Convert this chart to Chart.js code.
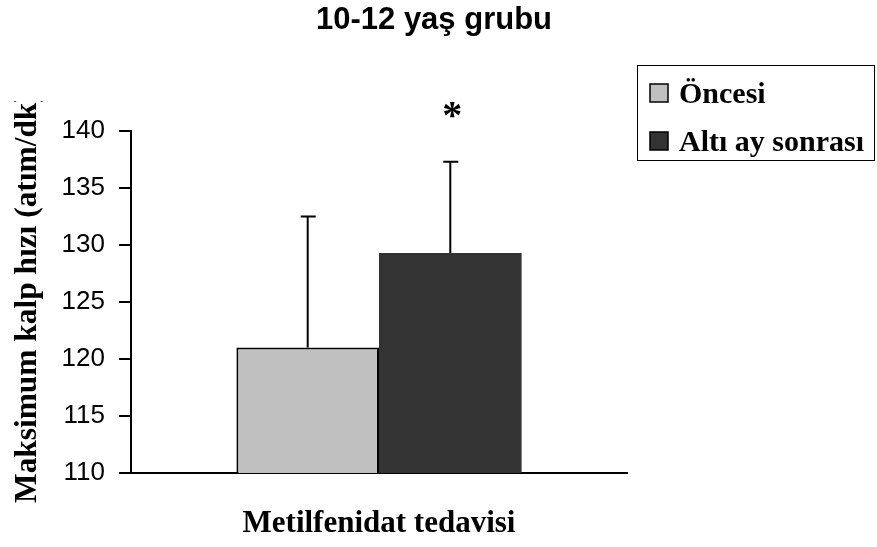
<!DOCTYPE html>
<html>
<head>
<meta charset="utf-8">
<script src="https://cdn.jsdelivr.net/npm/chart.js@4/dist/chart.umd.min.js"></script>
<style>
  body { margin: 0; background: #fff; }
</style>
</head>
<body>
<canvas id="chart" width="877" height="547"></canvas>
<script>
const categories = ['Metilfenidat tedavisi'];
const seriesNames = ['Öncesi', 'Altı ay sonrası'];
const onceValues = [121.0];
const sonraValues = [129.3];
const onceErrors = [11.5];
const sonraErrors = [8.0];
const yTicks = [110, 115, 120, 125, 130, 135, 140];
const yTitle = 'Maksimum kalp hızı (atım/dk)';
const chartTitle = '10-12 yaş grubu';
const significance = ['', '*'];

const errors = [onceErrors, sonraErrors];

// title, error bars, star, rotated y title and boxed legend
const extras = {
  id: 'extras',
  afterDatasetsDraw(chart) {
    const ctx = chart.ctx;
    const y = chart.scales.y;
    ctx.save();
    ctx.strokeStyle = '#000';
    ctx.lineWidth = 2;
    chart.data.datasets.forEach((ds, i) => {
      const meta = chart.getDatasetMeta(i);
      meta.data.forEach((bar, j) => {
        const top = y.getPixelForValue(ds.data[j] + errors[i][j]);
        ctx.beginPath();
        ctx.moveTo(bar.x, bar.y);
        ctx.lineTo(bar.x, top);
        ctx.moveTo(bar.x - 7, top);
        ctx.lineTo(bar.x + 8, top);
        ctx.stroke();
        if (significance[i]) {
          ctx.fillStyle = '#000';
          ctx.font = 'bold 40px "Liberation Serif"';
          ctx.textAlign = 'center';
          ctx.textBaseline = 'alphabetic';
          ctx.fillText(significance[i], bar.x + 2, top - 34);
        }
      });
    });
    ctx.restore();
  },
  afterDraw(chart) {
    const ctx = chart.ctx;
    // chart title
    ctx.save();
    ctx.fillStyle = '#000';
    ctx.font = 'bold 31px "Liberation Sans"';
    ctx.textAlign = 'center';
    ctx.textBaseline = 'alphabetic';
    ctx.fillText(chartTitle, 434, 29);
    ctx.restore();

    // y axis title, clipped at the top like the original
    ctx.save();
    ctx.beginPath();
    ctx.rect(0, 101, 131, 446);
    ctx.clip();
    ctx.translate(36, 503);
    ctx.rotate(-Math.PI / 2);
    ctx.fillStyle = '#000';
    ctx.font = 'bold 31.4px "Liberation Serif"';
    ctx.textAlign = 'left';
    ctx.textBaseline = 'alphabetic';
    ctx.fillText(yTitle, 0, 0);
    ctx.restore();

    // legend
    ctx.save();
    ctx.strokeStyle = '#000';
    ctx.lineWidth = 1;
    ctx.strokeRect(637.5, 65.5, 237, 95);
    ctx.font = 'bold 30px "Liberation Serif"';
    ctx.textBaseline = 'alphabetic';
    ctx.textAlign = 'left';
    chart.data.datasets.forEach((ds, i) => {
      const base = 103 + i * 48;
      ctx.fillStyle = ds.backgroundColor;
      ctx.fillRect(650, base - 19, 18, 18);
      ctx.lineWidth = 1.5;
      ctx.strokeRect(650, base - 19, 18, 18);
      ctx.fillStyle = '#000';
      ctx.fillText(ds.label, 679, base);
    });
    ctx.restore();
  }
};

new Chart(document.getElementById('chart'), {
  type: 'bar',
  data: {
    labels: categories,
    datasets: [
      {
        label: seriesNames[0],
        data: onceValues,
        backgroundColor: '#c0c0c0',
        borderColor: '#000',
        borderWidth: 2,
        borderSkipped: 'bottom'
      },
      {
        label: seriesNames[1],
        data: sonraValues,
        backgroundColor: '#333333',
        borderWidth: 0
      }
    ]
  },
  options: {
    responsive: false,
    animation: false,
    categoryPercentage: 0.575,
    barPercentage: 1.0,
    layout: { padding: { left: 0, right: 250, top: 131, bottom: 0 } },
    plugins: {
      legend: { display: false },
      tooltip: { enabled: false },
      title: { display: false }
    },
    scales: {
      x: {
        grid: { display: false },
        border: { display: true, color: '#000', width: 2 },
        ticks: { display: false },
        title: {
          display: true,
          text: categories[0],
          color: '#000',
          font: { family: '"Liberation Serif"', size: 31, weight: 'bold', lineHeight: 1.2 },
          padding: { top: 0, bottom: 4 }
        },
        afterFit(scale) { scale.height = 74; }
      },
      y: {
        min: 110,
        max: 140,
        afterBuildTicks(scale) { scale.ticks = yTicks.map(v => ({ value: v })); },
        grid: { display: true, drawOnChartArea: false, drawTicks: true, tickLength: 12, color: '#000', lineWidth: 2 },
        border: { display: true, color: '#000', width: 2 },
        ticks: {
          color: '#000',
          padding: 14,
          font: { family: '"Liberation Sans"', size: 26 }
        },
        afterFit(scale) { scale.width = 131; }
      }
    }
  },
  plugins: [extras]
});
</script>
</body>
</html>
